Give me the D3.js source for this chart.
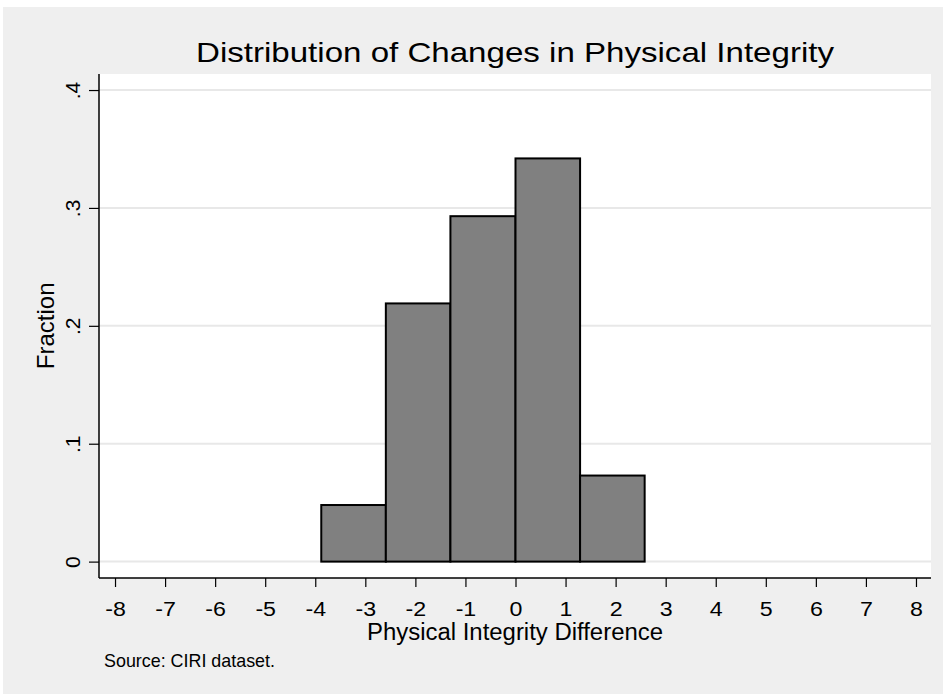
<!DOCTYPE html>
<html>
<head>
<meta charset="utf-8">
<script src="https://cdn.jsdelivr.net/npm/d3@7"></script>
<style>
  body { margin: 0; background: #fff; }
  text { font-family: "Liberation Sans", Arial, Helvetica, sans-serif; fill: #000; }
</style>
</head>
<body>
<div id="chart"></div>
<script>
// histogram bins (left edges and right edges) and fractions
const binStart = [-3.88, -2.59, -1.30, 0.00, 1.29]
const binEnd = [-2.59, -1.30, 0.00, 1.29, 2.58]
const fraction = [0.048, 0.219, 0.293, 0.342, 0.073]

const xTicks = [-8, -7, -6, -5, -4, -3, -2, -1, 0, 1, 2, 3, 4, 5, 6, 7, 8]
const yTicks = [0, 0.1, 0.2, 0.3, 0.4]
const yTickLabels = ["0", ".1", ".2", ".3", ".4"]

const titleText = "Distribution of Changes in Physical Integrity"
const xTitle = "Physical Integrity Difference"
const yTitle = "Fraction"
const noteText = "Source: CIRI dataset."

const width = 943
const height = 694
const plot = { left: 99, right: 931, top: 74, bottom: 578 }

const x = d3.scaleLinear().domain([-8.32, 8.3]).range([plot.left, plot.right])
const y = d3.scaleLinear().domain([-0.0139, 0.4136]).range([plot.bottom, plot.top])

const svg = d3.select("#chart")
  .append("svg")
  .attr("width", width)
  .attr("height", height)

// outer graph region
svg.append("rect")
  .attr("x", 3).attr("y", 7)
  .attr("width", width - 3).attr("height", height - 7)
  .attr("fill", "#efefef")

// plot region
svg.append("rect")
  .attr("x", plot.left).attr("y", plot.top)
  .attr("width", plot.right - plot.left).attr("height", plot.bottom - plot.top)
  .attr("fill", "#fff")

// gridlines
svg.append("g")
  .selectAll("line")
  .data(yTicks)
  .enter()
  .append("line")
  .attr("x1", plot.left).attr("x2", plot.right)
  .attr("y1", d => y(d)).attr("y2", d => y(d))
  .attr("stroke", "#e8e8e8")
  .attr("stroke-width", 2)

// bars
svg.append("g")
  .selectAll("rect")
  .data(fraction)
  .enter()
  .append("rect")
  .attr("x", (d, i) => x(binStart[i]))
  .attr("width", (d, i) => x(binEnd[i]) - x(binStart[i]))
  .attr("y", d => y(d))
  .attr("height", d => y(0) - y(d))
  .attr("fill", "#808080")
  .attr("stroke", "#000")
  .attr("stroke-width", 2)

// x axis
const xAxis = svg.append("g")
  .attr("transform", `translate(0,${plot.bottom})`)
  .call(d3.axisBottom(x).tickValues(xTicks).tickSize(9).tickFormat(d3.format("d")))
xAxis.select(".domain")
  .attr("d", `M${plot.left},0H${plot.right}`)
  .attr("stroke-width", 1.5)
xAxis.selectAll(".tick line").attr("stroke-width", 1.2)
xAxis.selectAll(".tick text")
  .attr("y", 0).attr("dy", 0)
  .attr("transform", "translate(0,38) scale(1.16,1)")
  .style("font-size", "20px")
  .style("font-family", "'Liberation Sans', Arial, sans-serif")
  .text(d => d < 0 ? "-" + Math.abs(d) : d)

// y axis
const yAxis = svg.append("g")
  .attr("transform", `translate(${plot.left},0)`)
  .call(d3.axisLeft(y).tickValues(yTicks).tickSize(10).tickFormat((d, i) => yTickLabels[i]))
yAxis.select(".domain")
  .attr("d", `M0,${plot.top}V${plot.bottom}`)
  .attr("stroke-width", 1.5)
yAxis.selectAll(".tick line").attr("stroke-width", 1.2)
yAxis.selectAll(".tick text")
  .attr("x", 0).attr("y", -19).attr("dy", 0)
  .attr("transform", "rotate(-90)")
  .attr("text-anchor", "middle")
  .style("font-size", "21px")
  .style("font-family", "'Liberation Sans', Arial, sans-serif")

// titles
svg.append("text")
  .attr("x", (plot.left + plot.right) / 2)
  .attr("y", 62)
  .attr("text-anchor", "middle")
  .attr("textLength", 638)
  .attr("lengthAdjust", "spacingAndGlyphs")
  .style("font-size", "28px")
  .text(titleText)

svg.append("text")
  .attr("x", (plot.left + plot.right) / 2)
  .attr("y", 640)
  .attr("text-anchor", "middle")
  .attr("textLength", 296)
  .attr("lengthAdjust", "spacingAndGlyphs")
  .style("font-size", "23px")
  .text(xTitle)

svg.append("text")
  .attr("transform", `translate(54,${y(0.2)}) rotate(-90)`)
  .attr("text-anchor", "middle")
  .style("font-size", "24px")
  .text(yTitle)

svg.append("text")
  .attr("x", 104)
  .attr("y", 667)
  .attr("textLength", 171)
  .attr("lengthAdjust", "spacingAndGlyphs")
  .style("font-size", "19px")
  .text(noteText)
</script>
</body>
</html>
